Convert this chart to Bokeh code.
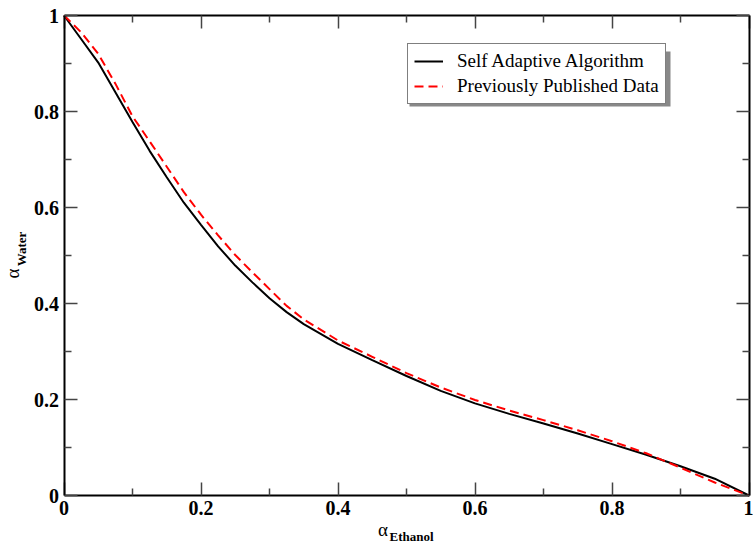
import math
from bokeh.plotting import figure
from bokeh.models import (Range1d, FixedTicker, LinearAxis, Label, Legend, LegendItem,
                          CustomJSTickFormatter, BoxAnnotation)
from bokeh.embed import file_html
from bokeh.resources import INLINE

# data
x_vals = [0.0, 0.025, 0.05, 0.075, 0.1, 0.125, 0.15, 0.175, 0.2, 0.225, 0.25, 0.275,
          0.3, 0.325, 0.35, 0.4, 0.45, 0.5, 0.55, 0.6, 0.65, 0.7, 0.75, 0.8,
          0.85, 0.9, 0.95, 1.0]
self_adaptive = [1.0, 0.951, 0.902, 0.840, 0.778, 0.718, 0.663, 0.610, 0.564, 0.519,
                 0.479, 0.444, 0.411, 0.382, 0.357, 0.316, 0.282, 0.249, 0.218, 0.192,
                 0.170, 0.150, 0.129, 0.107, 0.085, 0.061, 0.035, 0.0]
published = [1.0, 0.965, 0.920, 0.858, 0.790, 0.738, 0.685, 0.632, 0.585, 0.542,
             0.501, 0.465, 0.430, 0.395, 0.367, 0.323, 0.289, 0.255, 0.225, 0.199,
             0.177, 0.157, 0.136, 0.113, 0.088, 0.058, 0.027, 0.0]

major_ticks = [0, 0.2, 0.4, 0.6, 0.8, 1]
minor_ticks = [0.1, 0.3, 0.5, 0.7, 0.9]
tick_labels = ["0", "0.2", "0.4", "0.6", "0.8", "1"]

series_names = ["Self Adaptive Algorithm", "Previously Published Data"]

FONT = "Liberation Serif"
W, H = 753, 542
# plot box in pixels (left, right, top, bottom)
PL, PR, PT, PB = 63.5, 748.5, 15.0, 495.0
sx = (PR - PL)
sy = (PB - PT)

p = figure(width=W, height=H, output_backend="svg", toolbar_location=None,
           x_range=Range1d(-PL / sx, 1 + (W - PR) / sx),
           y_range=Range1d(-(H - PB) / sy, 1 + PT / sy),
           min_border=0, x_axis_location=None, y_axis_location=None)
p.grid.visible = False
p.outline_line_color = None
p.background_fill_color = "white"
p.border_fill_color = "white"

overrides = {t: l for t, l in zip(major_ticks, tick_labels)}


def make_axis(loc, labels=True):
    ax = LinearAxis(fixed_location=loc, bounds=(0, 1))
    ax.ticker = FixedTicker(ticks=major_ticks, minor_ticks=minor_ticks)
    ax.axis_line_color = "black"
    ax.axis_line_width = 2
    ax.major_tick_in = 13
    ax.major_tick_out = 0
    ax.minor_tick_in = 7
    ax.minor_tick_out = 0
    ax.major_tick_line_color = "#444444"
    ax.minor_tick_line_color = "#444444"
    ax.major_tick_line_width = 1.5
    ax.minor_tick_line_width = 1.5
    if labels:
        ax.major_label_overrides = overrides
        ax.major_label_text_font = FONT
        ax.major_label_text_font_style = "bold"
        ax.major_label_text_font_size = "20px"
        ax.major_label_text_color = "black"
        ax.major_label_standoff = 5
    else:
        ax.formatter = CustomJSTickFormatter(code="return ''")
        ax.major_label_standoff = 0
    return ax


p.add_layout(make_axis(0), "below")
p.add_layout(make_axis(0), "left")
p.add_layout(make_axis(1, labels=False), "above")
p.add_layout(make_axis(1, labels=False), "right")

r1 = p.line(x_vals, self_adaptive, line_color="black", line_width=2)
r2 = p.line(x_vals, published, line_color="red", line_width=2, line_dash="9 5")

# legend (screen units measured from the bottom-left of the canvas)
LG_X, LG_BOTTOM = 407, H - 104
p.add_layout(BoxAnnotation(left=LG_X + 2, right=LG_X + 263, top=LG_BOTTOM + 53,
                           bottom=LG_BOTTOM - 2,
                           left_units="screen", right_units="screen",
                           top_units="screen", bottom_units="screen",
                           fill_color="#888888", fill_alpha=1, line_color=None))

legend = Legend(items=[LegendItem(label=series_names[0], renderers=[r1]),
                       LegendItem(label=series_names[1], renderers=[r2])],
                location=(LG_X, LG_BOTTOM))
legend.label_text_font = FONT
legend.label_text_font_size = "19px"
legend.label_text_color = "black"
legend.glyph_width = 29
legend.glyph_height = 20
legend.label_height = 20
legend.label_standoff = 14
legend.spacing = 3
legend.padding = 6
legend.margin = 0
legend.border_line_color = "black"
legend.border_line_width = 1
legend.background_fill_color = "white"
legend.background_fill_alpha = 1
p.add_layout(legend, "center")

# axis titles: alpha with a bold subscript
p.add_layout(Label(x=382.5, y=H - 529, x_units="screen", y_units="screen", text="α",
                   text_font=FONT, text_font_size="19px", text_color="black",
                   text_align="center", text_baseline="middle"))
p.add_layout(Label(x=411, y=H - 535.5, x_units="screen", y_units="screen", text="Ethanol",
                   text_font=FONT, text_font_size="13px", text_font_style="bold",
                   text_color="black", text_align="center", text_baseline="middle"))
p.add_layout(Label(x=12, y=H - 273, x_units="screen", y_units="screen", text="α",
                   text_font=FONT, text_font_size="19px", text_color="black",
                   angle=math.pi / 2, text_align="center", text_baseline="middle"))
p.add_layout(Label(x=21, y=H - 248.5, x_units="screen", y_units="screen", text="Water",
                   text_font=FONT, text_font_size="13px", text_font_style="bold",
                   text_color="black", angle=math.pi / 2,
                   text_align="center", text_baseline="middle"))

open("out.html", "w").write(file_html(p, INLINE))
